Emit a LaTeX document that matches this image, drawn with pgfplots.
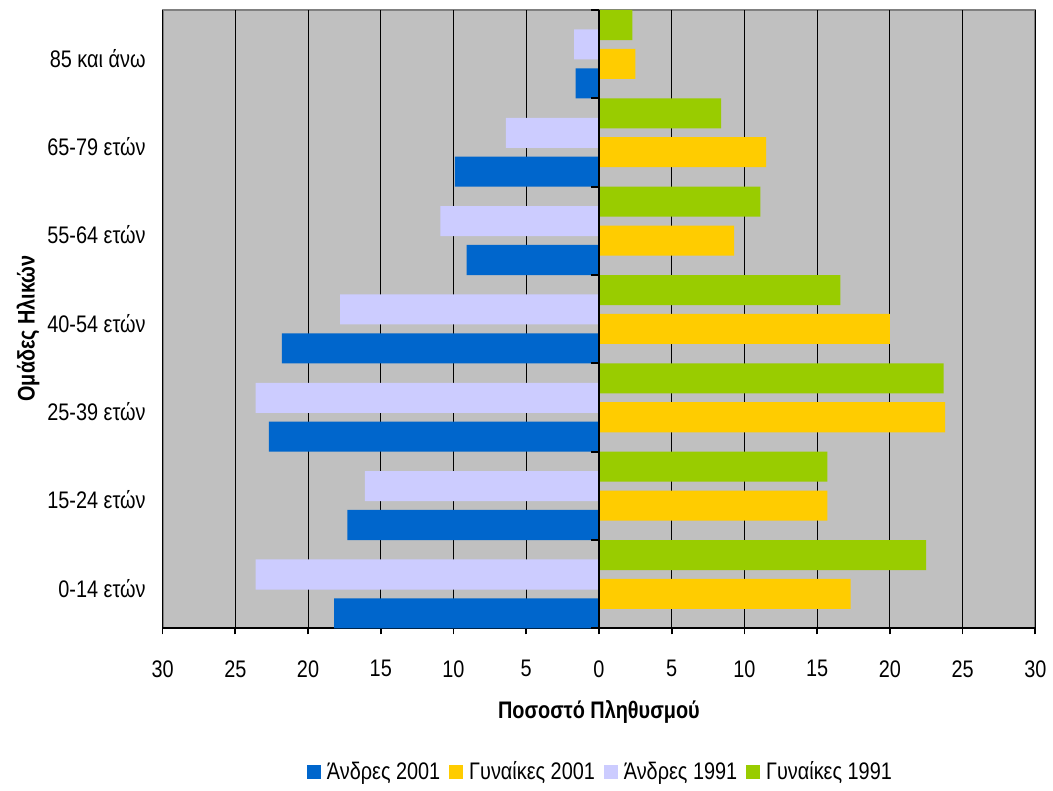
\documentclass[border=0pt]{standalone}
\usepackage{fontspec}
\setmainfont{Liberation Sans}[FakeStretch=0.83]
\usepackage{pgfplots}
\pgfplotsset{compat=1.18}
\definecolor{cBlue}{HTML}{0066CC}
\definecolor{cYel}{HTML}{FFCC00}
\definecolor{cLav}{HTML}{CCCCFF}
\definecolor{cGreen}{HTML}{99CC00}
\definecolor{cBg}{HTML}{C0C0C0}
\definecolor{cBorder}{HTML}{808080}
\pgfplotsset{sq/.style={legend image code/.code={\path[draw=none,fill=none] (-2.5pt,0pt) rectangle (8pt,0.1pt); \fill[##1] (0pt,-3.5pt) rectangle (7pt,3.5pt);}}}
\begin{document}
\begin{tikzpicture}[font=\fontsize{12}{14}\selectfont]
\begin{axis}[
 width=437.5pt, height=310pt, scale only axis,
 xmin=-30, xmax=30, ymin=-0.5, ymax=6.5,
 axis x line*=bottom, axis y line*=left,
 y axis line style={draw=none},
 x axis line style={black, line width=0.9pt},
 axis background/.style={fill=cBg, draw=cBorder, line width=1pt},
 xtick={-30,-25,...,30},
 xticklabels={30,25,20,15,10,5,0,5,10,15,20,25,30},
 ytick={0,...,6},
 yticklabels={0-14 ετών, 15-24 ετών, 25-39 ετών, 40-54 ετών, 55-64 ετών, 65-79 ετών, 85 και άνω},
 tick align=outside,
 major tick length=3pt,
 xtick style={black, line width=0.9pt},
 ytick style={draw=none},
 xmajorgrids,
 grid style={black, line width=0.5pt},
 xlabel={\textbf{Ποσοστό Πληθυσμού}},
 ylabel={\textbf{Ομάδες Ηλικών}},
 xlabel style={at={(axis description cs:0.5,-0.135)}, anchor=center},
 ylabel style={at={(axis description cs:-0.154,0.485)}, anchor=center},
 xticklabel style={yshift=-9.5pt},
 yticklabel style={xshift=-2pt, yshift=-2pt},
 legend style={at={(0.5,-0.232)}, anchor=center, legend columns=4, draw=none, fill=none},
 legend cell align=left,
]
\addplot[xbar, bar width=0.34, bar shift=-0.33, fill=cBlue, draw=none, sq] coordinates {(-18.2,0) (-17.3,1) (-22.7,2) (-21.8,3) (-9.1,4) (-9.9,5) (-1.6,6)};
\addlegendentry{Άνδρες 2001}
\addplot[xbar, bar width=0.34, bar shift=-0.11, fill=cYel, draw=none, sq] coordinates {(17.3,0) (15.7,1) (23.8,2) (20.0,3) (9.3,4) (11.5,5) (2.5,6)};
\addlegendentry{Γυναίκες 2001}
\addplot[xbar, bar width=0.34, bar shift=0.11, fill=cLav, draw=none, sq] coordinates {(-23.6,0) (-16.1,1) (-23.6,2) (-17.8,3) (-10.9,4) (-6.4,5) (-1.7,6)};
\addlegendentry{Άνδρες 1991}
\addplot[xbar, bar width=0.34, bar shift=0.33, fill=cGreen, draw=none, sq] coordinates {(22.5,0) (15.7,1) (23.7,2) (16.6,3) (11.1,4) (8.4,5) (2.3,6)};
\addlegendentry{Γυναίκες 1991}
\draw[black, line width=1pt] (axis cs:0,-0.5) -- (axis cs:0,6.5);
\pgfplotsinvokeforeach{-0.5,0.5,...,6.5}{\draw[black,line width=1pt] (axis cs:0,#1) -- ++(-4pt,0pt);}
\coordinate (sw) at (rel axis cs:0,0);
\coordinate (ne) at (rel axis cs:1,1);
\end{axis}
\path ([shift={(-81.5pt,-80pt)}]sw) rectangle ([shift={(7.5pt,5pt)}]ne);
\end{tikzpicture}
\end{document}
